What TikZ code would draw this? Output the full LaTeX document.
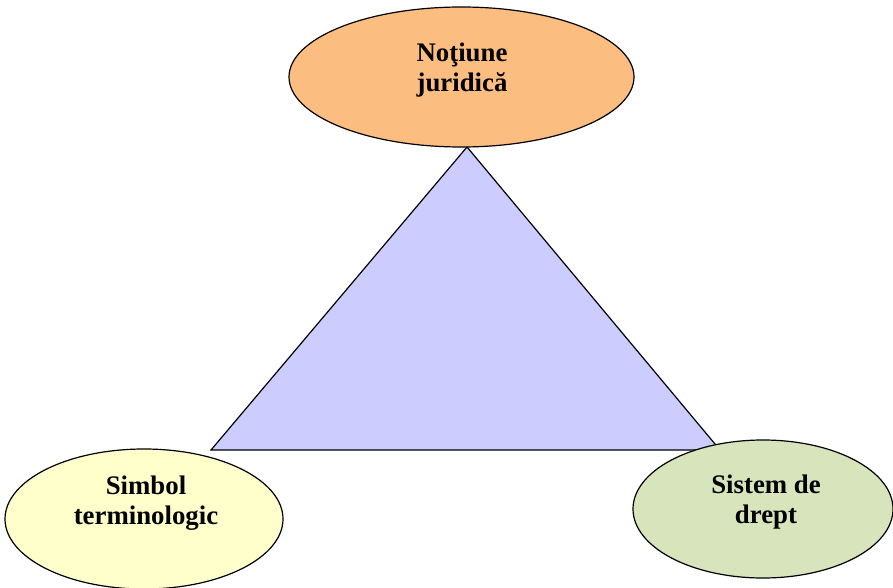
\documentclass[tikz,border=0pt]{standalone}
\usepackage{fontspec}
\setmainfont{Liberation Serif}
\usetikzlibrary{shapes.geometric}
\definecolor{cOrange}{RGB}{252,189,128}
\definecolor{cLav}{RGB}{204,204,255}
\definecolor{cYel}{RGB}{255,255,204}
\definecolor{cGreen}{RGB}{215,228,188}
\tikzset{
  oval/.style={ellipse, draw=black, line width=1.2pt, inner sep=0pt},
  lbl/.style={align=center, inner sep=0pt, font=\bfseries\fontsize{26.8}{30}\selectfont}
}
\begin{document}
\begin{tikzpicture}[x=1pt,y=-1pt]
\useasboundingbox (0,0) rectangle (893,588);
\coordinate (apex) at (467,147);
\coordinate (bl) at (211,450);
\coordinate (br) at (720,450);
\draw[fill=cLav, line width=1.2pt, line join=miter] (apex) -- (bl) -- (br) -- cycle;
\node[oval, fill=cOrange, minimum width=345pt, minimum height=140pt] (top) at (461.5,77) {};
\node[oval, fill=cYel, minimum width=278pt, minimum height=140pt] (left) at (144,519) {};
\node[oval, fill=cGreen, minimum width=260pt, minimum height=138pt] (right) at (763,509) {};
\node[lbl] (ttop) at (462,70) {Noţiune\\juridică};
\node[lbl] (tleft) at (146,503) {Simbol\\terminologic};
\node[lbl] (tright) at (766,502) {Sistem de\\drept};
\end{tikzpicture}
\end{document}
